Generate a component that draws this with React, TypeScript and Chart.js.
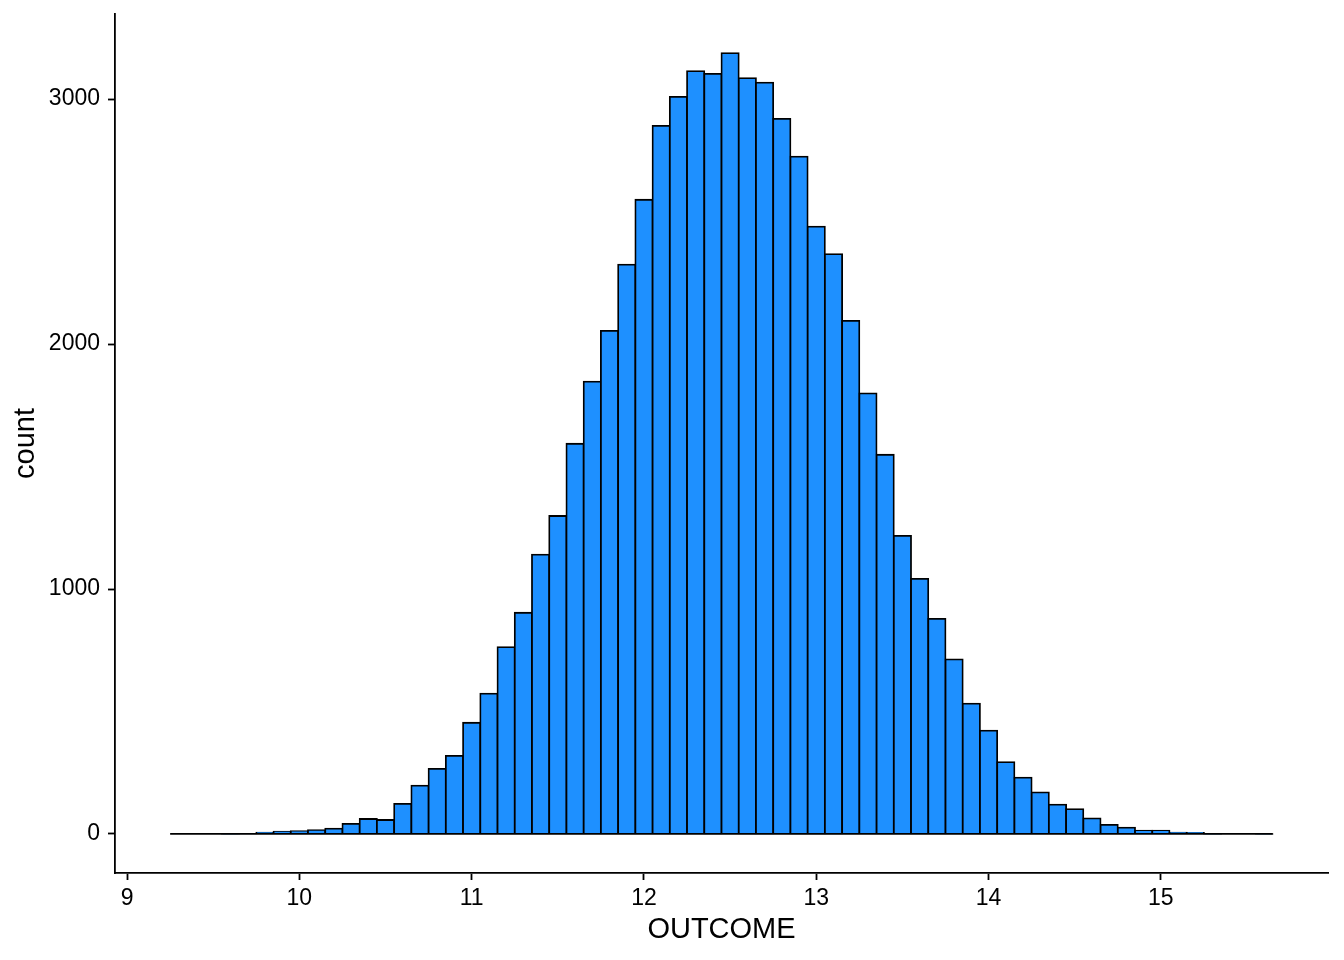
import { useEffect, useRef } from "react"
import { Chart, registerables } from "chart.js"

Chart.register(...registerables)

const FONT = "'Liberation Sans', Arial, sans-serif"

// bin centres (width 0.1) and counts
const BIN_CENTERS = [
  9.3, 9.4, 9.5, 9.6, 9.7, 9.8, 9.9, 10.0, 10.1, 10.2, 10.3, 10.4, 10.5, 10.6, 10.7, 10.8,
  10.9, 11.0, 11.1, 11.2, 11.3, 11.4, 11.5, 11.6, 11.7, 11.8, 11.9, 12.0, 12.1, 12.2, 12.3, 12.4,
  12.5, 12.6, 12.7, 12.8, 12.9, 13.0, 13.1, 13.2, 13.3, 13.4, 13.5, 13.6, 13.7, 13.8, 13.9, 14.0,
  14.1, 14.2, 14.3, 14.4, 14.5, 14.6, 14.7, 14.8, 14.9, 15.0, 15.1, 15.2, 15.3, 15.4, 15.5, 15.6,
]
const COUNTS = [
  0, 0, 0, 1, 2, 5, 9, 11, 16, 22, 41, 61, 57, 123, 197, 266,
  319, 454, 573, 763, 903, 1140, 1298, 1593, 1847, 2054, 2324, 2589, 2891, 3009, 3114, 3103,
  3188, 3086, 3067, 2919, 2765, 2479, 2367, 2095, 1799, 1548, 1217, 1041, 878, 713, 532, 422,
  293, 230, 170, 120, 101, 64, 37, 26, 14, 14, 5, 4, 1, 0, 0, 1,
]
const BIN_RANGE = [9.25, 15.65]

const X_TICKS = [9, 10, 11, 12, 13, 14, 15]
const Y_TICKS = [0, 1000, 2000, 3000]

export default function App() {
  const canvasRef = useRef<HTMLCanvasElement>(null)
  const chartRef = useRef<Chart | null>(null)

  useEffect(() => {
    if (!canvasRef.current) return
    if (chartRef.current) chartRef.current.destroy()

    const bars = BIN_CENTERS.map((x, i) => ({ x, y: COUNTS[i] }))
    const baseline = BIN_RANGE.map((x) => ({ x, y: 0 }))

    chartRef.current = new Chart(canvasRef.current, {
      type: "bar",
      data: {
        datasets: [
          {
            type: "line",
            data: baseline,
            borderColor: "#000000",
            borderWidth: 1.8,
            pointRadius: 0,
            order: 0,
          } as any,
          {
            type: "bar",
            data: bars,
            backgroundColor: "#1E90FF",
            borderColor: "#000000",
            borderWidth: 1.8,
            inflateAmount: 0.9,
            barPercentage: 1,
            categoryPercentage: 1,
            order: 1,
          } as any,
        ],
      },
      options: {
        responsive: false,
        animation: false,
        layout: { padding: { top: 14, right: 16, bottom: 0, left: 0 } },
        plugins: {
          legend: { display: false },
          tooltip: { enabled: false },
        },
        scales: {
          x: {
            type: "linear",
            offset: false,
            min: 8.93,
            max: 15.97,
            afterBuildTicks: (s: any) => {
              s.ticks = X_TICKS.map((value) => ({ value }))
            },
            afterFit: (s: any) => {
              s.height = 87
              s.paddingLeft = 0
              s.paddingRight = 0
            },
            grid: {
              offset: false,
              drawOnChartArea: false,
              tickLength: 7,
              tickWidth: 1.8,
              tickColor: "#000000",
            },
            border: { display: true, color: "#000000", width: 1.8 },
            ticks: {
              color: "#000000",
              padding: 5,
              maxRotation: 0,
              font: { family: FONT, size: 23 },
              callback: (v: any) => String(v),
            },
            title: {
              display: true,
              text: "OUTCOME",
              color: "#000000",
              font: { family: FONT, size: 29 },
              padding: { top: 0, bottom: 12.6 },
            },
          },
          y: {
            type: "linear",
            min: -159.4,
            max: 3347.4,
            afterBuildTicks: (s: any) => {
              s.ticks = Y_TICKS.map((value) => ({ value }))
            },
            afterFit: (s: any) => {
              s.width = 115
              s.paddingTop = 0
              s.paddingBottom = 0
            },
            grid: {
              drawOnChartArea: false,
              tickLength: 7,
              tickWidth: 1.8,
              tickColor: "#000000",
            },
            border: { display: true, color: "#000000", width: 1.8 },
            ticks: {
              color: "#000000",
              padding: 8,
              font: { family: FONT, size: 23 },
              callback: (v: any) => String(v),
            },
            title: {
              display: true,
              text: "count",
              color: "#000000",
              font: { family: FONT, size: 29 },
              padding: { top: 8.6, bottom: 0 },
            },
          },
        },
      },
    })

    return () => {
      if (chartRef.current) {
        chartRef.current.destroy()
        chartRef.current = null
      }
    }
  }, [])

  return (
    <div style={{ position: "absolute", left: 0, top: 0, width: 1344, height: 960, background: "#fff" }}>
      <canvas ref={canvasRef} width={1344} height={960} style={{ display: "block" }}></canvas>
    </div>
  )
}
